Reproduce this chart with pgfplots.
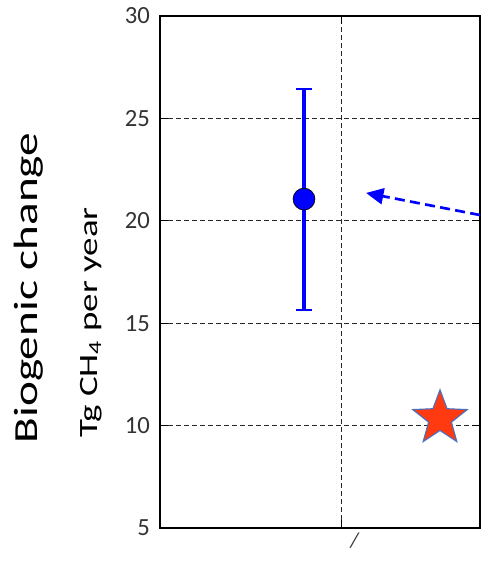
\documentclass[border=0pt]{standalone}
\usepackage{pgfplots}
\pgfplotsset{compat=1.18}
\usepackage{fontspec}
\setmainfont{Carlito}
\usetikzlibrary{arrows.meta}
\definecolor{starfill}{HTML}{FF3A10}
\definecolor{starline}{HTML}{4472C4}
\definecolor{tickgray}{HTML}{333333}
\pgfdeclareplotmark{fstar}{%
  \pgfpathmoveto{\pgfpointpolar{90}{\pgfplotmarksize}}%
  \pgfpathlineto{\pgfpointpolar{126}{0.42\pgfplotmarksize}}%
  \pgfpathlineto{\pgfpointpolar{162}{\pgfplotmarksize}}%
  \pgfpathlineto{\pgfpointpolar{198}{0.42\pgfplotmarksize}}%
  \pgfpathlineto{\pgfpointpolar{234}{\pgfplotmarksize}}%
  \pgfpathlineto{\pgfpointpolar{270}{0.42\pgfplotmarksize}}%
  \pgfpathlineto{\pgfpointpolar{306}{\pgfplotmarksize}}%
  \pgfpathlineto{\pgfpointpolar{342}{0.42\pgfplotmarksize}}%
  \pgfpathlineto{\pgfpointpolar{18}{\pgfplotmarksize}}%
  \pgfpathlineto{\pgfpointpolar{54}{0.42\pgfplotmarksize}}%
  \pgfpathclose
  \pgfusepathqfillstroke
}
\begin{document}
\begin{tikzpicture}
\useasboundingbox (-120pt,-26.25pt) rectangle (240.75pt,396pt);
\begin{axis}[
  at={(0,0)}, anchor=south west,
  scale only axis, width=240pt, height=384pt,
  xmin=0, xmax=1, ymin=5, ymax=30,
  xtick={0.566}, xticklabels={\itshape /},
  ytick={5,10,15,20,25,30},
  xticklabel style={xshift=10pt, font=\fontsize{16}{16}\selectfont, text=tickgray},
  yticklabel style={xshift=-4pt, font=\fontsize{18.5}{18.5}\selectfont, text=tickgray},
  /pgf/number format/assume math mode=true,
  tick align=inside, major tick length=6pt,
  tick style={black, line width=0.8pt},
  grid=major,
  major grid style={black!85, line width=0.8pt, dash pattern=on 3.5pt off 2.5pt},
  axis line style={line width=1.4pt, black},
  clip=false,
]
\addplot[blue, line width=2.5pt, mark=*, mark size=8.2pt,
  mark options={fill=blue, draw=black, line width=0.5pt},
  error bars/.cd, y dir=both, y explicit,
  error bar style={line width=2.5pt, blue},
  error mark options={rotate=90, mark size=5.8pt, line width=1.5pt, blue}]
  coordinates {(0.45,21.06) += (0,5.38) -= (0,5.42)};
\addplot[only marks, mark=fstar, mark size=21.5pt,
  mark options={fill=starfill, draw=starline, line width=0.8pt}]
  coordinates {(0.875,10.35)};
\addplot[blue, line width=2pt, dash pattern=on 7.5pt off 4pt,
  -{Triangle[length=13pt,width=12pt]}]
  coordinates {(1,20.28) (0.644,21.36)};
\end{axis}
\node[rotate=90, anchor=base] at (-92pt,180pt)
  {\scalebox{1.4}[1]{\fontsize{25.3}{25.3}\selectfont Biogenic change}};
\node[rotate=90, anchor=base] at (-47.25pt,154pt)
  {\scalebox{1.4}[1]{\fontsize{19.8}{19.8}\selectfont Tg CH\textsubscript{4} per year}};
\end{tikzpicture}
\end{document}
